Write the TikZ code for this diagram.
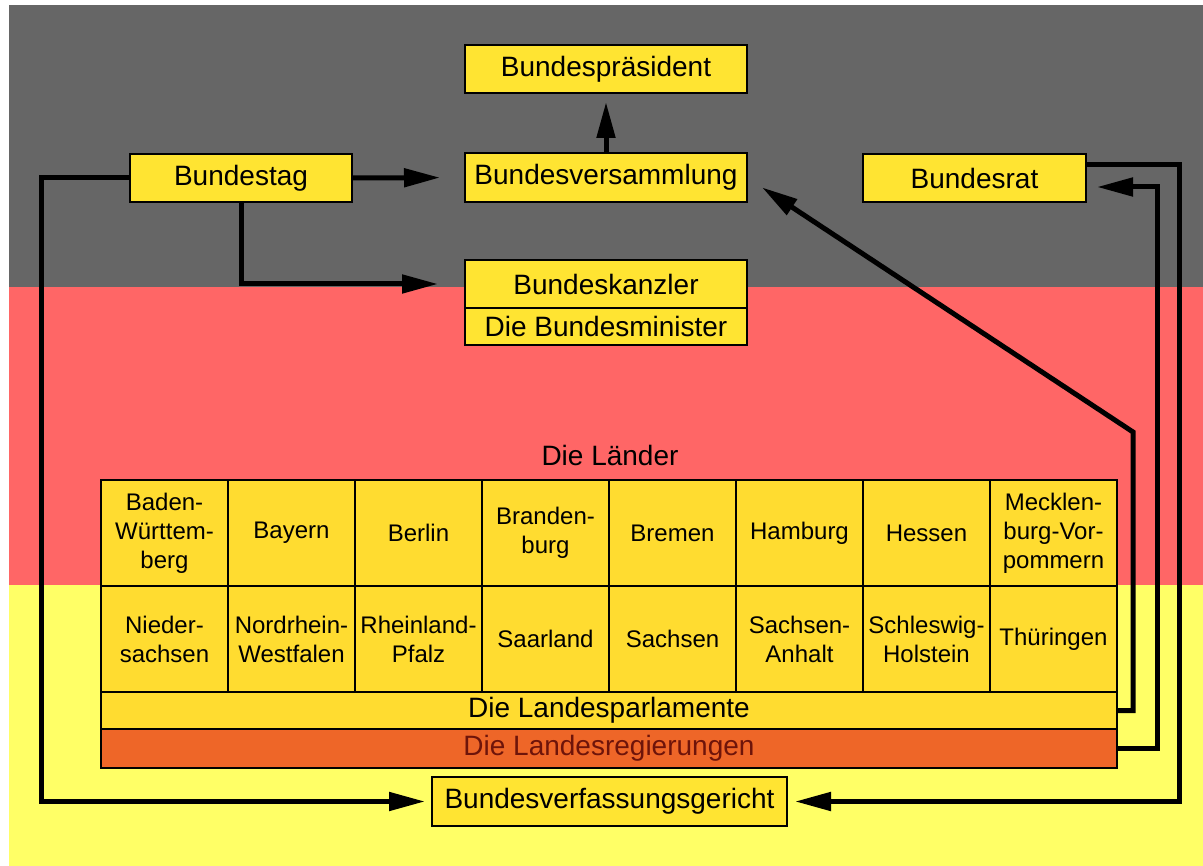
\documentclass[tikz,border=0pt]{standalone}
\usepackage{fontspec}
\setmainfont{Liberation Sans}
\usetikzlibrary{positioning, arrows.meta}
\definecolor{flaggrau}{RGB}{102,102,102}
\definecolor{flaggrot}{RGB}{255,102,102}
\definecolor{flaggelb}{RGB}{255,255,102}
\definecolor{kastengelb}{RGB}{255,228,50}
\definecolor{zellgelb}{RGB}{255,220,48}
\definecolor{regorange}{RGB}{238,102,40}
\definecolor{regtext}{RGB}{110,20,10}

\begin{document}
\begin{tikzpicture}[x=1pt, y=-1pt,
	kasten/.style={rectangle, draw=black, line width=2.5pt, fill=kastengelb, inner sep=0pt, outer sep=0pt, minimum height=48pt, font=\fontsize{28}{30}\selectfont},
	zelle/.style={rectangle, draw=black, line width=2.5pt, fill=zellgelb, inner sep=0pt, outer sep=0pt, minimum width=127pt, minimum height=106pt, align=center, font=\fontsize{24}{29}\selectfont},
	pfeil/.style={line width=5pt, -{Triangle[length=36pt, width=18pt]}}]
	\useasboundingbox (0,0) rectangle (1203,866);
	\fill[flaggrau] (9,5) rectangle (1203,287);
	\fill[flaggrot] (9,287) rectangle (1203,585);
	\fill[flaggelb] (9,585) rectangle (1203,866);

	\node (praes) at (606,69)[kasten, minimum width=282pt]{Bundespräsident};
	\node (bversamml) at (606,177.5)[kasten, minimum width=282pt, minimum height=49pt]{Bundesversammlung};
	\node (btag) at (241,178)[kasten, minimum width=222pt]{Bundestag};
	\node (brat) at (974.5,178)[kasten, minimum width=223pt]{Bundesrat};
	\node (kanzler) at (606,284)[kasten, minimum width=282pt]{Bundeskanzler};
	\node (minister) [kasten, below=0pt of kanzler, minimum width=282pt, minimum height=37pt]{Die Bundesminister};

	\node (laender) at (610,455)[font=\fontsize{28}{30}\selectfont]{Die Länder};
	\node (bw) at (164.5,533)[zelle]{Baden-\\Württem-\\berg};
	\node (by) at (291.5,533)[zelle]{Bayern};
	\node (be) at (418.5,533)[zelle]{Berlin};
	\node (bb) at (545.5,533)[zelle]{Branden-\\burg};
	\node (hb) at (672.5,533)[zelle]{Bremen};
	\node (hh) at (799.5,533)[zelle]{Hamburg};
	\node (he) at (926.5,533)[zelle]{Hessen};
	\node (mv) at (1053.5,533)[zelle]{Mecklen-\\burg-Vor-\\pommern};
	\node (ni) at (164.5,639)[zelle]{Nieder-\\sachsen};
	\node (nw) at (291.5,639)[zelle]{Nordrhein-\\Westfalen};
	\node (rp) at (418.5,639)[zelle]{Rheinland-\\Pfalz};
	\node (sl) at (545.5,639)[zelle]{Saarland};
	\node (sn) at (672.5,639)[zelle]{Sachsen};
	\node (st) at (799.5,639)[zelle]{Sachsen-\\Anhalt};
	\node (sh) at (926.5,639)[zelle]{Schleswig-\\Holstein};
	\node (th) at (1053.5,639)[zelle]{Thüringen};
	\node (parl) at (609,710.5)[kasten, fill=zellgelb, minimum width=1016pt, minimum height=37pt]{Die Landesparlamente};
	\node (regier) [kasten, below=0pt of parl, fill=regorange, text=regtext, minimum width=1016pt, minimum height=39pt]{Die Landesregierungen};
	\node (bverfg) at (609.5,801.5)[kasten, minimum width=355pt, minimum height=49pt]{Bundesverfassungsgericht};

	\coordinate (knick) at (1133,432);
	\draw[pfeil, shorten >=7pt] (btag.west) -- ++(-89,0) |- (bverfg.west);
	\draw[pfeil, shorten >=25pt] (btag.east) -- (bversamml.west);
	\draw[pfeil, shorten >=27pt] (btag.south) |- (kanzler.west);
	\draw[pfeil, shorten >=9pt] (bversamml.north) -- (praes.south);
	\draw[pfeil, shorten >=18pt] (parl.east) -| (knick) -- (bversamml.east);
	\draw[pfeil, shorten >=11pt] (regier.east) -- ++(40,0) |- ([yshift=-9pt]brat.east);
	\draw[pfeil, shorten >=8pt] ([yshift=13pt]brat.east) -- ++(93,0) |- (bverfg.east);
\end{tikzpicture}
\end{document}
